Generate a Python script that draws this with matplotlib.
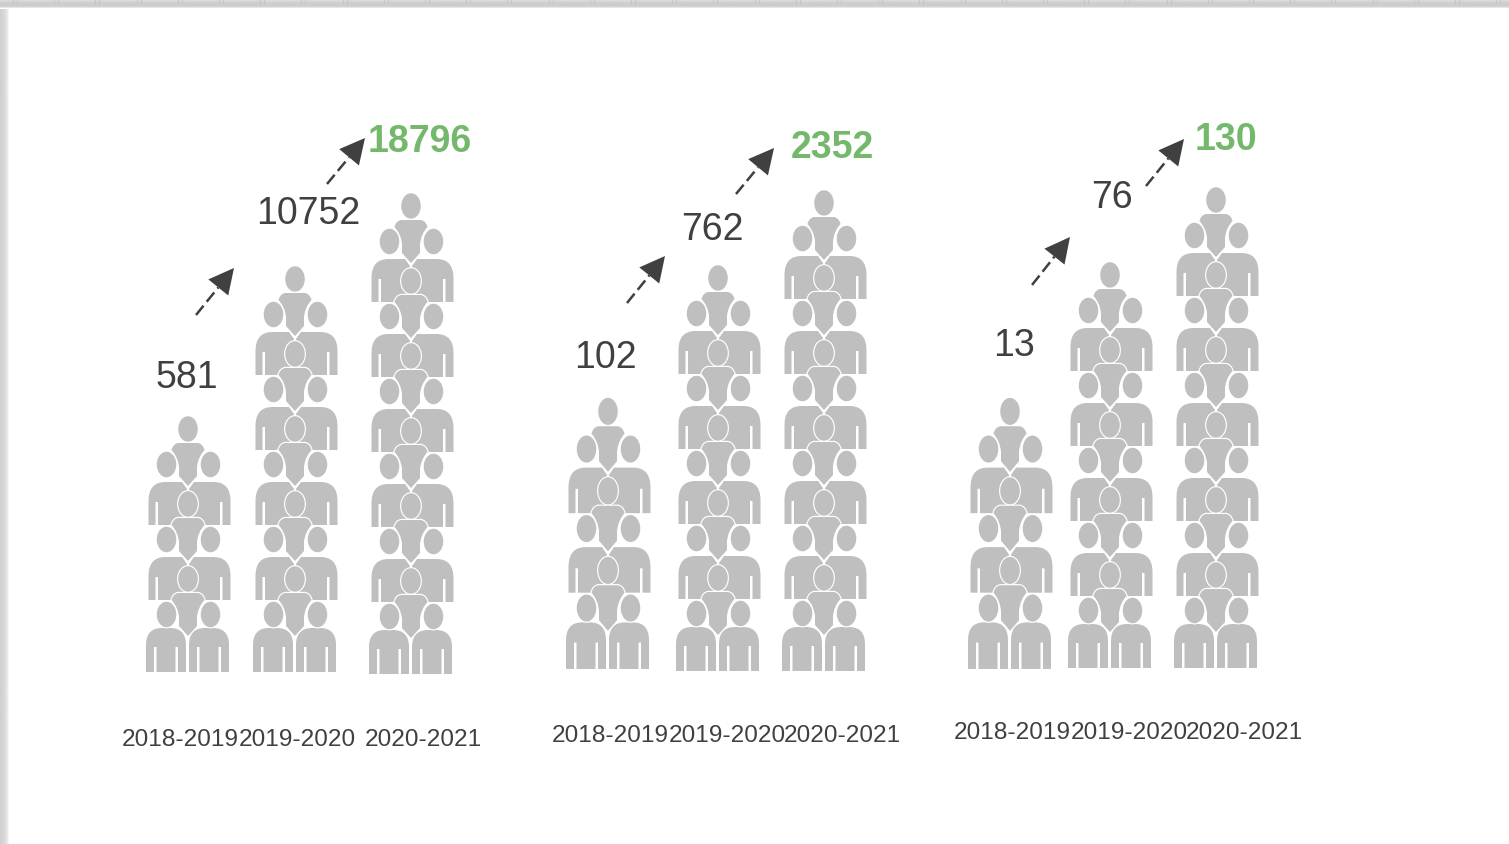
import numpy as np
import matplotlib
matplotlib.use('Agg')
import matplotlib.pyplot as plt
from matplotlib.path import Path
from matplotlib.patches import PathPatch, Ellipse, Polygon

# Data
years = ['2018-2019', '2019-2020', '2020-2021']
values_a = [581, 10752, 18796]
values_b = [102, 762, 2352]
values_c = [13, 76, 130]
units_a = [3, 5, 6]
units_b = [3, 5, 6]
units_c = [3, 5, 6]

# Layout, in reference pixels
column_x = [[188, 295, 411], [608, 718, 824], [1010, 1110, 1216]]
column_bottom = [[672, 672, 674], [669, 671, 671], [669, 668, 668]]
column_pitch = [[75, 75, 75], [79.5, 75, 75], [79.5, 75, 75]]
value_pos = [[(187, 378), (308.5, 214), (420, 142)],
             [(605, 358), (712, 230), (832, 148)],
             [(1014, 346), (1112, 198), (1226, 140)]]
year_x = [[180, 297.5, 423], [610, 727, 842], [1012, 1129, 1244]]
year_y = [740, 736, 733]
arrows = [[((196, 315), (234, 268)), ((327, 184), (365, 138))],
          [((627, 303), (665, 256)), ((736, 194), (774, 148))],
          [((1032, 285), (1070, 237)), ((1146, 186), (1184, 139))]]

GRAY = '#BFBFBF'
TEXT = '#404040'
GREEN = '#74B86C'
BASE_PITCH = 75

plt.rcParams['font.family'] = ['Liberation Sans', 'DejaVu Sans']


def halo(ax, make_patch):
    # white outline under the shape so the gray keeps its full size
    ax.add_patch(make_patch(facecolor='white', edgecolor='white', lw=1.7))
    ax.add_patch(make_patch(facecolor=GRAY, edgecolor='none'))


def shape(ax, verts, codes):
    path = Path(verts, codes)
    halo(ax, lambda **kw: PathPatch(path, **kw))


def head(ax, x, y, s):
    halo(ax, lambda **kw: Ellipse((x, y), 19.5, 25.5 * s, **kw))


def torso(ax, cx, y0, s):
    M, L, C = Path.MOVETO, Path.LINETO, Path.CURVE3
    pts = [(-10, 14), (10, 14), (15, 15), (16.5, 21), (10, 28), (9, 38), (9, 47), (0, 57),
           (-9, 47), (-9, 38), (-10, 28), (-16.5, 21), (-15, 15), (-10, 14), (-10, 14)]
    codes = [M, L, C, C, C, C, L, L, L, L, C, C, C, C, Path.CLOSEPOLY]
    shape(ax, [(cx + a, y0 + b * s) for a, b in pts], codes)


def upper_body(ax, cx, y0, side, s):
    # arm + chest, cut on the inside by the next unit drawn over it
    M, L, C = Path.MOVETO, Path.LINETO, Path.CURVE3
    outer = 39.5 if side < 0 else 42.5
    slit = 30 if side < 0 else 32
    pts = [(outer, 96), (outer, 72), (outer, 53), (outer - 17, 53), (6, 53), (1, 60), (1, 96),
           (slit, 96), (slit, 73), (slit + 2.5, 73), (slit + 2.5, 96), (outer, 96)]
    codes = [M, L, C, C, L, L, L, L, L, L, L, Path.CLOSEPOLY]
    shape(ax, [(cx + side * a, y0 + b * s) for a, b in pts], codes)


def lower_body(ax, cx, y0, side, s):
    # full figure at the foot of a stack, with two slits
    M, L, C = Path.MOVETO, Path.LINETO, Path.CURVE3
    outer = 42 if side < 0 else 41
    inner = 2 if side < 0 else 1
    s1 = inner + 8
    s2 = outer - 10.5
    pts = [(outer, 93), (outer, 66), (outer, 49), (outer - 16, 49), (inner + 16, 49), (inner, 49),
           (inner, 66), (inner, 93), (s1, 93), (s1, 68), (s1 + 2.5, 68), (s1 + 2.5, 93),
           (s2, 93), (s2, 68), (s2 + 2.5, 68), (s2 + 2.5, 93), (outer, 93)]
    codes = [M, L, C, C, L, C, C, L, L, L, L, L, L, L, L, L, Path.CLOSEPOLY]
    shape(ax, [(cx + side * a, y0 + b * s) for a, b in pts], codes)


def draw_stack(ax, cx, bottom, units, pitch):
    s = pitch / BASE_PITCH
    foot = bottom - 93 * s
    for i in range(units):
        y0 = foot - pitch * (units - 1 - i)
        if i == units - 1:
            lower_body(ax, cx, y0, -1, s)
            lower_body(ax, cx, y0, 1, s)
        else:
            upper_body(ax, cx, y0, -1, s)
            upper_body(ax, cx, y0, 1, s)
        head(ax, cx, y0, s)
        torso(ax, cx, y0, s)
        head(ax, cx - 21.5, y0 + 35.5 * s, s)
        head(ax, cx + 22.5, y0 + 35.5 * s, s)


def draw_arrow(ax, start, tip):
    (x0, y0), (x1, y1) = start, tip
    d = np.array([x1 - x0, y1 - y0], dtype=float)
    d /= np.hypot(*d)
    n = np.array([-d[1], d[0]])
    base = np.array(tip) - d * 25
    ax.plot([x0, base[0]], [y0, base[1]], color=TEXT, lw=1.8, dashes=(4.8, 2))
    ax.add_patch(Polygon([tip, base + n * 12.8, base - n * 12.8], closed=True,
                         facecolor=TEXT, edgecolor='none'))


fig = plt.figure(figsize=(15.09, 8.44), dpi=100)
ax = fig.add_axes([0, 0, 1, 1])
ax.axis('off')

# Slide shadow along the top and left edges
left = np.array([[0.82, 0.82, 0.83, 0.84, 0.85, 0.87, 0.89, 0.92, 0.96, 1.0]])
top = np.array([[0.86], [0.84], [0.82], [0.81], [0.80], [0.80], [0.83], [0.90], [1.0]])
ax.imshow(left, cmap='gray', vmin=0, vmax=1, extent=(0, 10, 844, 0), aspect='auto',
          interpolation='bilinear')
ax.imshow(top, cmap='gray', vmin=0, vmax=1, extent=(0, 1509, 9, 0), aspect='auto',
          interpolation='bilinear')
ax.set_xlim(0, 1509)
ax.set_ylim(844, 0)
for x in np.arange(13, 1509, 41.2):
    ax.plot([x, x], [0, 2.5], color='#C6C6C6', lw=0.8)
    ax.plot([x + 4, x + 4], [0, 2.5], color='#C6C6C6', lw=0.8)

groups = [(values_a, units_a), (values_b, units_b), (values_c, units_c)]
for g, (values, units) in enumerate(groups):
    for j in range(3):
        draw_stack(ax, column_x[g][j], column_bottom[g][j], units[j], column_pitch[g][j])
        last = j == 2
        ax.text(*value_pos[g][j], str(values[j]), ha='center', va='center', fontsize=27,
                color=GREEN if last else TEXT, fontweight='bold' if last else 'normal')
        ax.text(year_x[g][j], year_y[g], years[j], ha='center', va='center', fontsize=17.6,
                color=TEXT)
    for start, tip in arrows[g]:
        draw_arrow(ax, start, tip)

fig.savefig('out.png', dpi=100)
